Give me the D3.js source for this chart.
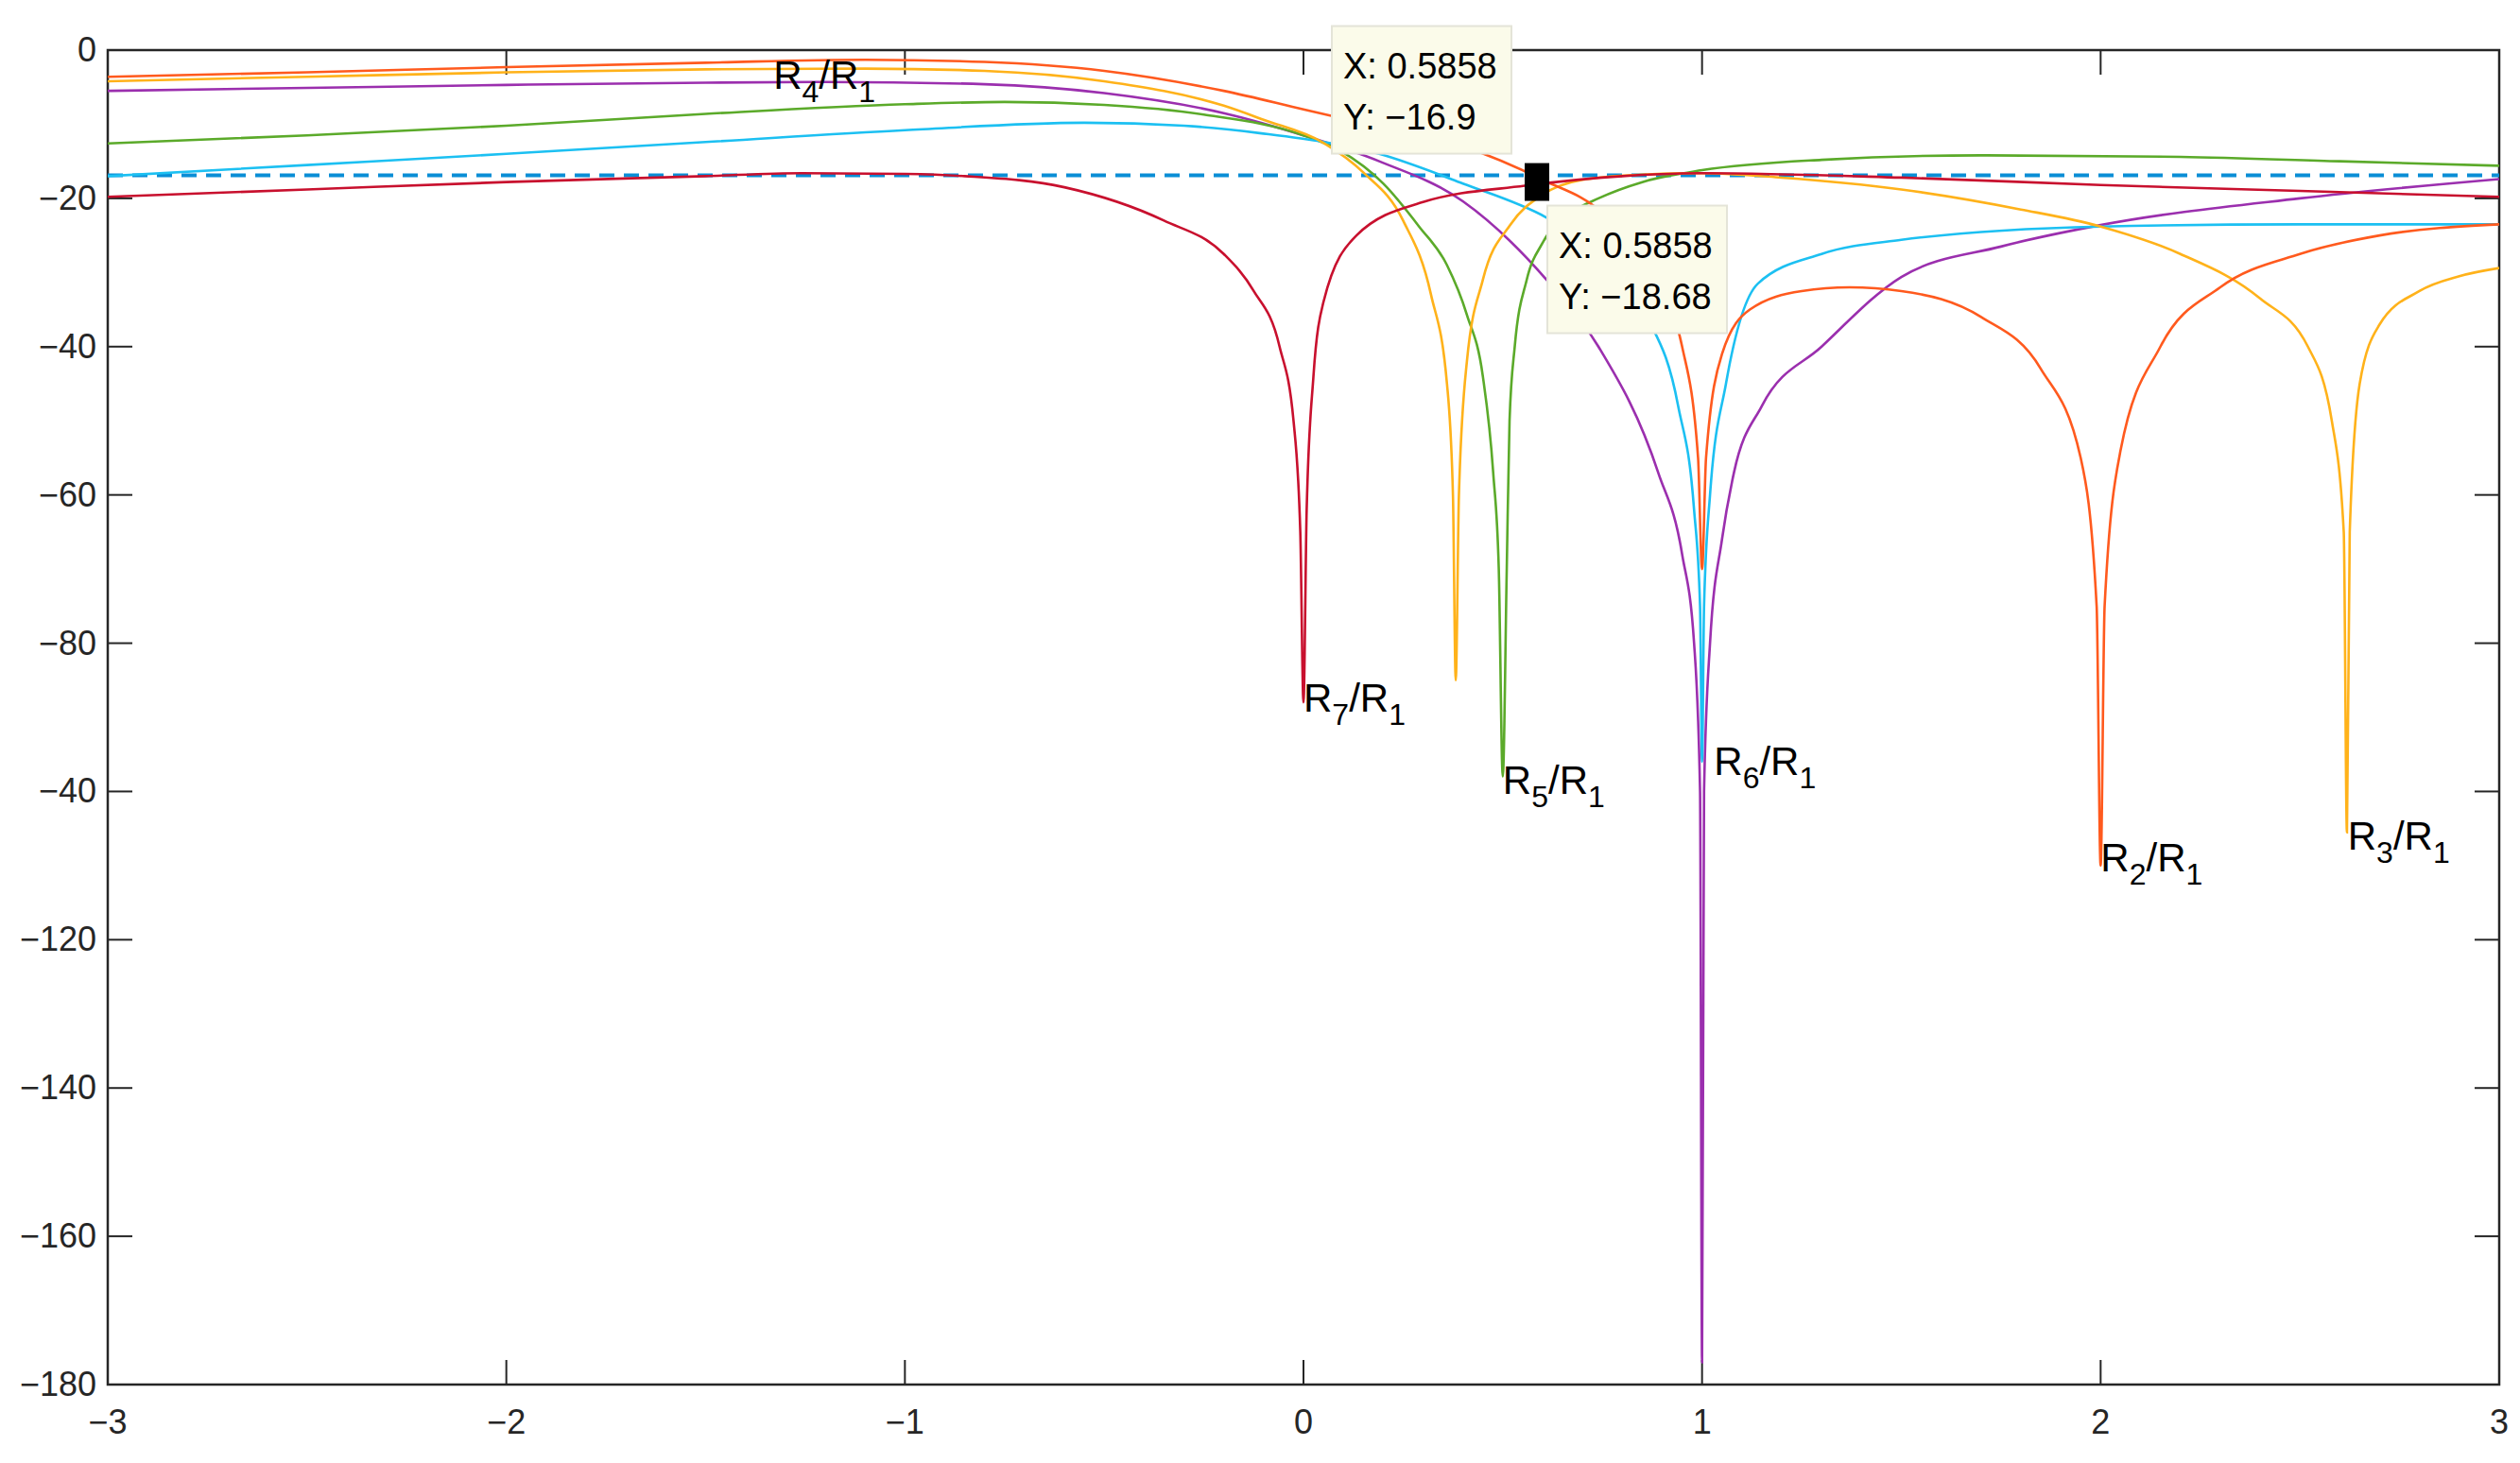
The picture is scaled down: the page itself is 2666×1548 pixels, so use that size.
<!DOCTYPE html>
<html><head><meta charset="utf-8">
<script src="https://cdn.jsdelivr.net/npm/d3@7"></script>
<style>body{margin:0;background:#fff}svg{display:block}</style>
</head><body><svg id="c" width="2666" height="1548"></svg>
<script>
const xTicks=[-3,-2,-1,0,1,2,3];
const xTickLabels=["\u22123","\u22122","\u22121","0","1","2","3"];
const yTicks=[0,-20,-40,-60,-80,-100,-120,-140,-160,-180];
const yTickLabels=["0","\u221220","\u221240","\u221260","\u221280","\u221240","\u2212120","\u2212140","\u2212160","\u2212180"];

const r2X=[-3,-2.5,-2,-1.5,-1.1,-0.8,-0.5,-0.2,0,0.2,0.4,0.6,0.75,0.88,0.95,0.99,1,1.01,1.05,1.12,1.25,1.37,1.5,1.7,1.85,1.95,1.99,2,2.01,2.05,2.15,2.3,2.5,2.7,3];
const r2Y=[-3.6,-3.0,-2.3,-1.7,-1.3,-1.6,-2.8,-5.5,-8,-10.5,-13,-17.5,-22,-31,-40,-55,-70,-55,-41,-35,-32.5,-32,-32.5,-36,-43,-55,-75,-110,-75,-54,-40,-32,-27.5,-25,-23.5];
const r3X=[-3,-2.5,-2,-1.5,-1.1,-0.8,-0.5,-0.2,-0.1,0.05,0.15,0.25,0.32,0.36,0.375,0.382,0.39,0.41,0.45,0.52,0.6,0.7,0.85,1,1.2,1.5,1.8,2,2.2,2.4,2.52,2.58,2.61,2.618,2.625,2.65,2.7,2.8,2.9,3];
const r3Y=[-4.2,-3.6,-3.0,-2.6,-2.5,-2.8,-4.2,-7.5,-9.4,-12.5,-16.5,-23,-33,-45,-60,-85,-60,-42,-31,-23.5,-19.5,-17.5,-16.8,-16.6,-17.2,-18.8,-21.5,-23.8,-27.5,-33.5,-40,-50,-65,-105.5,-65,-45,-37,-32.5,-30.5,-29.4];
const r4X=[-3,-2.5,-2,-1.5,-1.2,-0.8,-0.5,-0.2,0,0.19,0.4,0.61,0.74,0.89,0.95,0.98,0.995,1,1.005,1.02,1.05,1.08,1.15,1.3,1.5,1.75,2,2.5,3];
const r4Y=[-5.5,-5.1,-4.7,-4.4,-4.3,-4.6,-5.8,-8.5,-11.5,-15,-20.4,-31,-40,-57,-68,-80,-100,-177,-100,-80,-66,-57,-48,-40,-30.6,-26.5,-23.6,-20,-17.4];
const r5X=[-3,-2.5,-2,-1.5,-1,-0.75,-0.5,-0.25,0,0.093,0.2,0.29,0.36,0.41,0.45,0.476,0.49,0.5,0.51,0.517,0.53,0.56,0.6,0.67,0.74,0.85,1,1.3,1.7,2.2,2.6,3];
const r5Y=[-12.6,-11.5,-10.2,-8.6,-7.3,-7,-7.4,-8.7,-11.5,-13.6,-18,-23.8,-29,-35.7,-44,-57,-70,-98,-70,-50,-40,-31,-26,-22,-20,-17.8,-16.2,-14.8,-14.2,-14.4,-15,-15.6];
const r6X=[-3,-2.5,-2,-1.5,-1,-0.55,-0.3,-0.11,0.19,0.4,0.61,0.75,0.86,0.94,0.98,0.995,1,1.005,1.02,1.06,1.14,1.3,1.5,2,2.5,3];
const r6Y=[-17,-15.5,-14,-12.4,-10.8,-9.8,-10.2,-11.2,-14,-18,-22.6,-27.5,-35.7,-48,-62,-75,-96,-75,-60,-45,-31.5,-27.5,-25.6,-23.8,-23.5,-23.5];
const r7X=[-3,-2.5,-2,-1.5,-1.26,-1,-0.85,-0.6,-0.35,-0.2,-0.126,-0.06,-0.025,-0.008,0,0.008,0.025,0.05,0.133,0.3,0.555,0.8,1,1.5,2,2.5,3];
const r7Y=[-19.8,-18.8,-17.8,-17,-16.6,-16.7,-17,-18.5,-23,-27.5,-32.4,-40,-50,-65,-88,-62,-44,-34,-25,-20.5,-18.3,-17,-16.6,-17.2,-18.2,-19,-19.8];

const seriesNames=["R4","R5","R6","R3","R2","R7"];
const seriesColors=["#9B2FAE","#5BAA2A","#1CC0F2","#FFB21A","#FF5A1E","#C8102E"];
const seriesXs=[r4X,r5X,r6X,r3X,r2X,r7X];
const seriesYs=[r4Y,r5Y,r6Y,r3Y,r2Y,r7Y];

const refLevel=-16.9;
const tipX=0.5858, tipY1=-16.9, tipY2=-18.68;

const labelNum=["4","7","5","6","2","3"];
const labelX=[-1.33,0,0.5,1.03,2.0,2.62];
const labelY=[-3.5,-87.5,-98.5,-96,-109,-106];

const W=2666,H=1548, m={l:114,t:53,r:22,b:83};
const svg=d3.select("#c");
const x=d3.scaleLinear().domain([-3,3]).range([m.l,W-m.r]);
const y=d3.scaleLinear().domain([-180,0]).range([H-m.b,m.t]);
const font="'Liberation Sans Narrow','Arial Narrow','Liberation Sans',Arial,sans-serif";

const g=svg.append("g");
const clip=svg.append("clipPath").attr("id","cp").append("rect")
 .attr("x",m.l).attr("y",m.t).attr("width",W-m.r-m.l).attr("height",H-m.b-m.t);

const tk=26;
// axes
const ax=g.append("g").attr("stroke","#262626").attr("stroke-width",2);
xTicks.forEach(t=>{
  ax.append("line").attr("x1",x(t)).attr("x2",x(t)).attr("y1",y(-180)).attr("y2",y(-180)-tk);
  ax.append("line").attr("x1",x(t)).attr("x2",x(t)).attr("y1",y(0)).attr("y2",y(0)+tk);
});
yTicks.forEach(t=>{
  ax.append("line").attr("x1",x(-3)).attr("x2",x(-3)+tk).attr("y1",y(t)).attr("y2",y(t));
  ax.append("line").attr("x1",x(3)).attr("x2",x(3)-tk).attr("y1",y(t)).attr("y2",y(t));
});
ax.append("rect").attr("x",m.l).attr("y",m.t).attr("width",W-m.r-m.l).attr("height",H-m.b-m.t).attr("fill","none").attr("stroke-width",2.5);

xTicks.forEach((t,i)=>g.append("text").attr("x",x(t)).attr("y",y(-180)+52).attr("text-anchor","middle")
  .attr("font-family",font).attr("font-size",36).attr("fill","#262626").text(xTickLabels[i]));
yTicks.forEach((t,i)=>g.append("text").attr("x",x(-3)-12).attr("y",y(t)+12).attr("text-anchor","end")
  .attr("font-family",font).attr("font-size",36).attr("fill","#262626").text(yTickLabels[i]));

const lg=g.append("g").attr("clip-path","url(#cp)");
// dashed ref line
lg.append("line").attr("x1",x(-3)).attr("x2",x(3)).attr("y1",y(refLevel)).attr("y2",y(refLevel))
  .attr("stroke","#0A8ED6").attr("stroke-width",4).attr("stroke-dasharray","16,10");

const line=d3.line().x(d=>x(d[0])).y(d=>y(d[1])).curve(d3.curveMonotoneX);
seriesNames.forEach((n,i)=>{
  const pts=seriesXs[i].map((v,j)=>[v,seriesYs[i][j]]);
  lg.append("path").datum(pts).attr("d",line).attr("fill","none")
    .attr("stroke",seriesColors[i]).attr("stroke-width",2.6);
});

// labels
labelNum.forEach((n,i)=>{
  const t=g.append("text").attr("x",x(labelX[i])).attr("y",y(labelY[i])+14)
   .attr("font-family",font).attr("font-size",42).attr("fill","#000");
  t.append("tspan").text("R");
  t.append("tspan").attr("dy",14).attr("font-size",32).text(n);
  t.append("tspan").attr("dy",-14).text("/R");
  t.append("tspan").attr("dy",14).attr("font-size",32).text("1");
});

// data tips
const px=x(tipX);
[tipY1,tipY2].forEach(v=>{
  g.append("rect").attr("x",px-13).attr("y",y(v)-13).attr("width",26).attr("height",26).attr("fill","#000");
});
function tip(bx,by,txt){
  const b=g.append("g");
  b.append("rect").attr("x",bx).attr("y",by).attr("width",190).attr("height",135)
   .attr("fill","#FBFBEA").attr("stroke","#E4E4D8").attr("stroke-width",2);
  txt.forEach((s,i)=>b.append("text").attr("x",bx+12).attr("y",by+55+i*54)
   .attr("font-family","'Liberation Sans',Arial,sans-serif").attr("font-size",38).attr("fill","#000").text(s));
}
tip(px-217,y(tipY1)-158,["X: "+tipX,"Y: \u2212"+Math.abs(tipY1)]);
tip(px+11,y(tipY2)+18,["X: "+tipX,"Y: \u2212"+Math.abs(tipY2)]);
</script></body></html>
